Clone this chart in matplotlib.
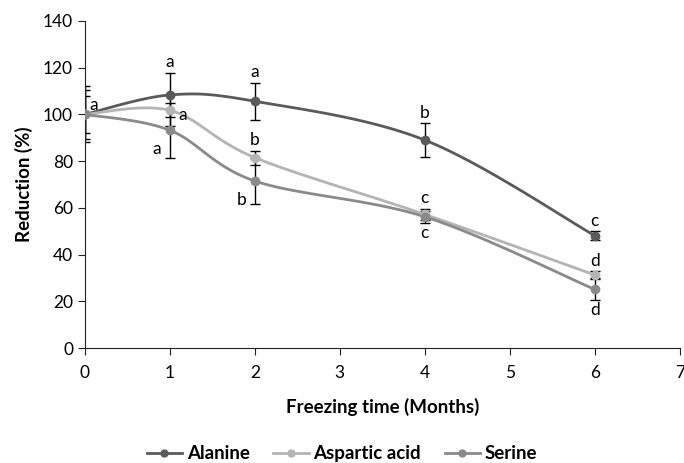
import numpy as np
import matplotlib.pyplot as plt

plt.rcParams['font.family'] = ['Lato', 'DejaVu Sans']

months = [0, 1, 2, 4, 6]

alanine = [100, 108.3, 105.6, 89.0, 48.1]
alanine_err = [8, 9.6, 8, 7.3, 2]
alanine_lbl = ['a', 'a', 'a', 'b', 'c']

aspartic = [100, 101.7, 81.5, 57.2, 31.3]
aspartic_err = [10.4, 6.5, 3, 2.5, 1.5]
aspartic_lbl = ['', 'a', 'b', 'c', 'd']

serine = [100, 93.2, 71.5, 56.2, 25.1]
serine_err = [12, 11.7, 10, 2.5, 4.5]
serine_lbl = ['', 'a', 'b', 'c', 'd']


def smooth(x, y, n=30, t=0.5):
    # catmull-rom style curve like Excel "smoothed line"
    x = np.asarray(x, float)
    y = np.asarray(y, float)
    px = np.concatenate([[x[0]], x, [x[-1]]])
    py = np.concatenate([[y[0]], y, [y[-1]]])
    xs, ys = [], []
    for i in range(1, len(px) - 2):
        p0 = np.array([px[i], py[i]])
        p1 = np.array([px[i + 1], py[i + 1]])
        m0 = (np.array([px[i + 1], py[i + 1]]) - np.array([px[i - 1], py[i - 1]])) * t / 3
        m1 = (np.array([px[i + 2], py[i + 2]]) - np.array([px[i], py[i]])) * t / 3
        c1 = p0 + m0
        c2 = p1 - m1
        s = np.linspace(0, 1, n)[:, None]
        pts = (1 - s) ** 3 * p0 + 3 * (1 - s) ** 2 * s * c1 + 3 * (1 - s) * s ** 2 * c2 + s ** 3 * p1
        xs.extend(pts[:, 0])
        ys.extend(pts[:, 1])
    return xs, ys


fig = plt.figure(figsize=(6.84, 4.63), dpi=100)
ax = fig.add_axes([0.124, 0.248, 0.87, 0.707])

series = [
    ('Alanine', alanine, alanine_err, '#5a5a5a'),
    ('Aspartic acid', aspartic, aspartic_err, '#b4b4b4'),
    ('Serine', serine, serine_err, '#8a8a8a'),
]
for name, vals, err, col in series:
    xs, ys = smooth(months, vals)
    ax.errorbar(months, vals, yerr=err, fmt='none', ecolor='black',
                elinewidth=1, capsize=3.5, capthick=1, zorder=2)
    ax.plot(xs, ys, color=col, lw=2, zorder=3)
    ax.plot(months, vals, 'o', color=col, ms=6, zorder=4)
    ax.plot([], [], '-o', color=col, lw=2, ms=5, label=name)

fs = 12.5
# letters for alanine (above error bar)
for i, (x, v, e, l) in enumerate(zip(months, alanine, alanine_err, alanine_lbl)):
    if i == 0:
        ax.text(x + 0.05, v + 4, l, fontsize=fs, ha='left', va='center')
    else:
        ax.text(x, v + e + 1.0, l, fontsize=fs, ha='center', va='bottom')
for i, (x, v, e, l) in enumerate(zip(months, aspartic, aspartic_err, aspartic_lbl)):
    if i == 1:
        ax.text(x + 0.1, v - 2, l, fontsize=fs, ha='left', va='center')
    elif l:
        ax.text(x, v + e + 1.0, l, fontsize=fs, ha='center', va='bottom')
for i, (x, v, e, l) in enumerate(zip(months, serine, serine_err, serine_lbl)):
    if i in (1, 2):
        ax.text(x - 0.1, v - 8, l, fontsize=fs, ha='right', va='center')
    elif l:
        ax.text(x, v - e - 1.0, l, fontsize=fs, ha='center', va='top')

ax.set_xlim(0, 7)
ax.set_ylim(0, 140)
ax.set_xticks(range(0, 8))
ax.set_yticks(range(0, 141, 20))
for s in ['top', 'right']:
    ax.spines[s].set_visible(False)
ax.spines['left'].set_color('#222222')
ax.spines['bottom'].set_color('#222222')
ax.tick_params(labelsize=12.5, length=5, color='#222222')
ax.tick_params(axis='x', pad=7)
ax.set_xlabel('Freezing time (Months)', fontsize=13.5, fontweight='bold', labelpad=12)
ax.set_ylabel('Reduction (%)', fontsize=13.5, fontweight='bold', labelpad=7)

fig.legend(loc='lower center', bbox_to_anchor=(0.5, -0.035), ncol=3, frameon=False,
           prop={'size': 13.5, 'weight': 'bold'}, handlelength=1.9, handletextpad=0.25,
           columnspacing=1.25)

fig.savefig('out.png', dpi=100)
